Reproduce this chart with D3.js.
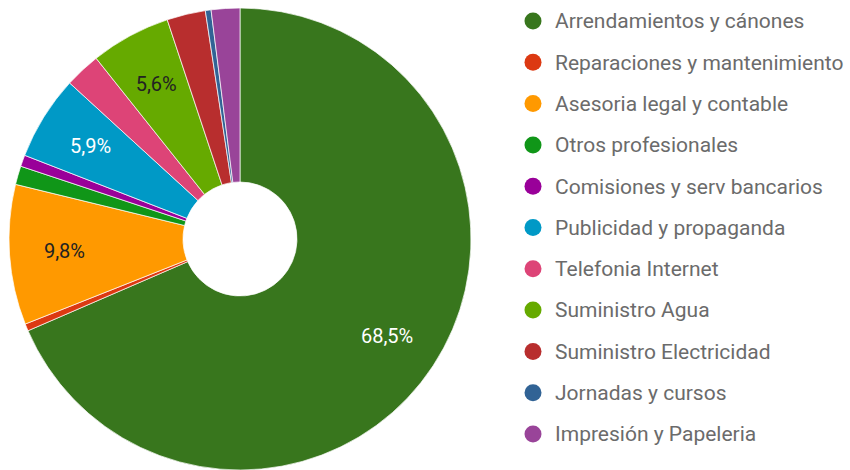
<!DOCTYPE html>
<html>
<head>
<meta charset="utf-8">
<script src="https://cdn.jsdelivr.net/npm/d3@7"></script>
<style>
  body { margin: 0; background: #fff; }
  text { font-family: Roboto, "Open Sans", sans-serif; }
</style>
</head>
<body>
<div id="chart"></div>
<script>
//data
var categories = ["Arrendamientos y cánones", "Reparaciones y mantenimiento", "Asesoria legal y contable",
    "Otros profesionales", "Comisiones y serv bancarios", "Publicidad y propaganda", "Telefonia Internet",
    "Suministro Agua", "Suministro Electricidad", "Jornadas y cursos", "Impresión y Papeleria"];
var values = [68.5, 0.5, 9.8, 1.3, 0.8, 5.9, 2.5, 5.6, 2.7, 0.4, 2.0];
var colors = ["#38761d", "#dc3912", "#ff9900", "#109618", "#990099", "#0099c6",
    "#dd4477", "#66aa00", "#b82e2e", "#316395", "#994499"];
var labelColors = ["#fff", "#222", "#222", "#222", "#fff", "#fff", "#fff", "#222", "#fff", "#fff", "#fff"];

var width = 850, height = 470;
var cx = 240, cy = 239, outerR = 231, innerR = 57;

//append the svg object to the body of the page
var svg = d3.select("#chart").append("svg")
    .attr("width", width)
    .attr("height", height);

var g = svg.append("g")
    .attr("transform", "translate(" + cx + "," + cy + ")");

var pie = d3.pie().sort(null).value((d) => d.value);
var data = categories.map((c, i) => ({name: c, value: values[i], color: colors[i], label: labelColors[i]}));
var arcs = pie(data);

var arc = d3.arc().innerRadius(innerR).outerRadius(outerR);
var labelArc = d3.arc().innerRadius(176).outerRadius(176);

//slices
g.selectAll("path")
    .data(arcs)
    .join("path")
    .attr("d", arc)
    .attr("fill", (d) => d.data.color)
    .attr("stroke", "#fff")
    .attr("stroke-width", 0.7);

//percentage labels, only for the bigger slices
var total = d3.sum(values);
g.selectAll("text.pct")
    .data(arcs.filter((d) => d.data.value / total >= 0.05))
    .join("text")
    .attr("class", "pct")
    .attr("transform", (d) => "translate(" + labelArc.centroid(d) + ")")
    .attr("text-anchor", "middle")
    .attr("dy", "0.35em")
    .attr("font-size", 20)
    .attr("fill", (d) => d.data.label)
    .text((d) => d3.format(".1f")(d.data.value / total * 100).replace(".", ",") + "%");

//legend
var legendY = d3.scalePoint().domain(categories).range([21, 434]);

var legend = svg.append("g")
    .selectAll("g")
    .data(data)
    .join("g")
    .attr("transform", (d) => "translate(533," + legendY(d.name) + ")");

legend.append("circle")
    .attr("r", 8.5)
    .attr("fill", (d) => d.color);

legend.append("text")
    .attr("x", 22)
    .attr("dy", "0.35em")
    .attr("font-size", 21)
    .attr("fill", "#6b6b6b")
    .text((d) => d.name);
</script>
</body>
</html>
